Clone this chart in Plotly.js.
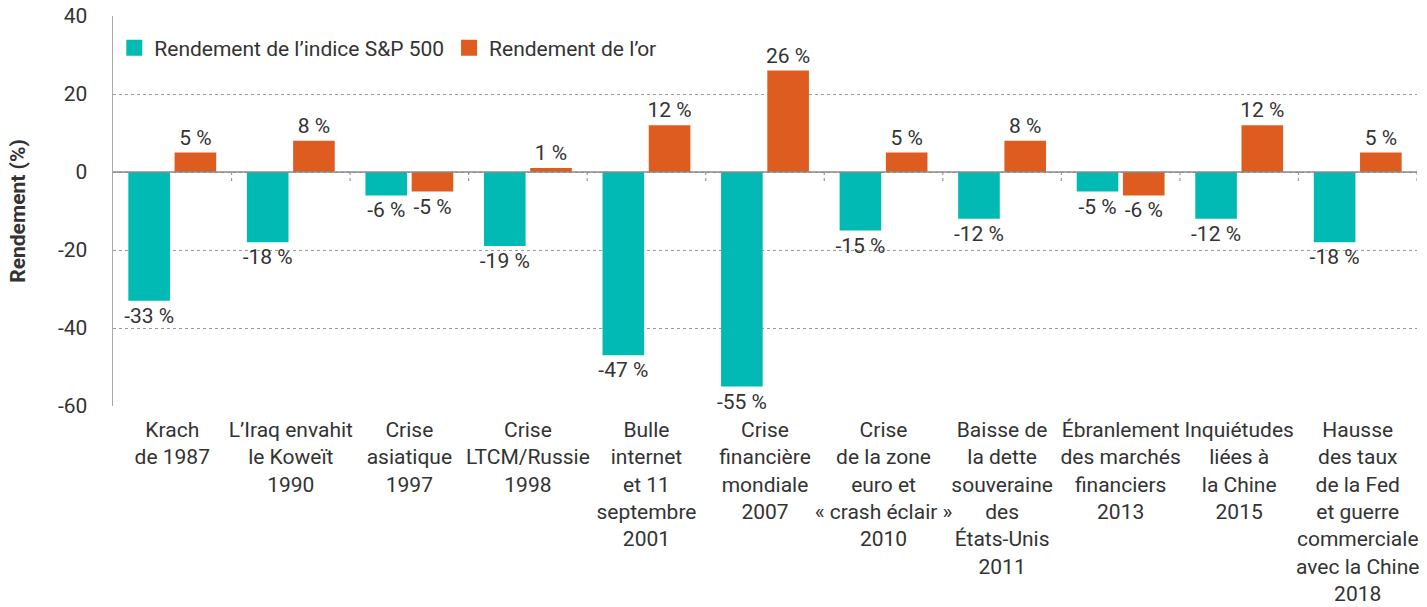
<!DOCTYPE html>
<html><head><meta charset="utf-8">
<script src="https://cdn.plot.ly/plotly-3.0.1.min.js"></script>
<style>html,body{margin:0;padding:0;background:#fff}#c{width:1427px;height:607px}</style>
</head><body><div id="c"></div>
<script>
const categories = [
  "Krach<br>de 1987",
  "L’Iraq envahit<br>le Koweït<br>1990",
  "Crise<br>asiatique<br>1997",
  "Crise<br>LTCM/Russie<br>1998",
  "Bulle<br>internet<br>et 11<br>septembre<br>2001",
  "Crise<br>financière<br>mondiale<br>2007",
  "Crise<br>de la zone<br>euro et<br>« crash éclair »<br>2010",
  "Baisse de<br>la dette<br>souveraine<br>des<br>États-Unis<br>2011",
  "Ébranlement<br>des marchés<br>financiers<br>2013",
  "Inquiétudes<br>liées à<br>la Chine<br>2015",
  "Hausse<br>des taux<br>de la Fed<br>et guerre<br>commerciale<br>avec la Chine<br>2018"
];
const sp500 = [-33, -18, -6, -19, -47, -55, -15, -12, -5, -12, -18];
const gold = [5, 8, -5, 1, 12, 26, 5, 8, -6, 12, 5];
const seriesNames = ["Rendement de l’indice S&P 500", "Rendement de l’or"];
const colors = ["#00BAB3", "#DE5C1F"];
const yTicks = [-60, -40, -20, 0, 20, 40];

const FONT = "Roboto, 'Open Sans', sans-serif";
const txtColor = "#333333";

const fmt = v => v + " %";

const traces = [
  {type: "bar", x: categories, y: sp500, name: seriesNames[0], marker: {color: colors[0]},
   text: sp500.map(fmt), textposition: "outside", constraintext: "none", cliponaxis: false,
   textfont: {size: 21, color: txtColor, family: FONT}, showlegend: false, hoverinfo: "none"},
  {type: "bar", x: categories, y: gold, name: seriesNames[1], marker: {color: colors[1]},
   text: gold.map(fmt), textposition: "outside", constraintext: "none", cliponaxis: false,
   textfont: {size: 21, color: txtColor, family: FONT}, showlegend: false, hoverinfo: "none"},
  {type: "scatter", mode: "markers", x: [null], y: [null], name: seriesNames[0],
   marker: {symbol: "square", size: 16, color: colors[0]}},
  {type: "scatter", mode: "markers", x: [null], y: [null], name: seriesNames[1],
   marker: {symbol: "square", size: 16, color: colors[1]}}
];

const shapes = [];
for (let i = 0; i < categories.length; i++) {
  shapes.push({type: "line", xref: "x", yref: "y", x0: i + 0.5, x1: i + 0.5, y0: 0, y1: -2.6,
    line: {color: "#999", width: 1.2, dash: "dot"}});
}
shapes.push({type: "line", xref: "paper", yref: "y", x0: 0, x1: 1, y0: 0, y1: 0,
  line: {color: "#8a8a8a", width: 1.5}});

const layout = {
  width: 1427, height: 607,
  margin: {l: 113, r: 10, t: 16, b: 201},
  paper_bgcolor: "#fff", plot_bgcolor: "#fff",
  font: {family: FONT, color: txtColor, size: 21},
  barmode: "group", bargap: 0.22, bargroupgap: 0.1,
  showlegend: true,
  legend: {orientation: "h", x: 0.001, y: 0.97, xanchor: "left", yanchor: "top",
    font: {size: 21, color: txtColor, family: FONT}, bgcolor: "rgba(0,0,0,0)", itemwidth: 30},
  xaxis: {type: "category", showgrid: false, zeroline: false, showline: false, ticks: "",
    tickangle: 0, automargin: false,
    tickfont: {size: 21, color: txtColor, family: FONT}, ticklabelstandoff: 9, fixedrange: true,
    range: [-0.5, categories.length - 0.5]},
  yaxis: {range: [-60, 40], tickvals: yTicks, ticktext: yTicks.map(String), automargin: false,
    showgrid: true, gridcolor: "#9a9a9a", griddash: "dot", gridwidth: 1,
    zeroline: false, showline: true, linecolor: "#aaaaaa", linewidth: 1.5,
    ticks: "", ticklabelstandoff: 20, tickfont: {size: 21, color: txtColor, family: FONT},
    title: {text: "<b>Rendement (%)</b>", font: {size: 21, color: txtColor, family: FONT}, standoff: 26}},
  shapes: shapes
};

Plotly.newPlot("c", traces, layout, {displayModeBar: false, staticPlot: true});
</script></body></html>
